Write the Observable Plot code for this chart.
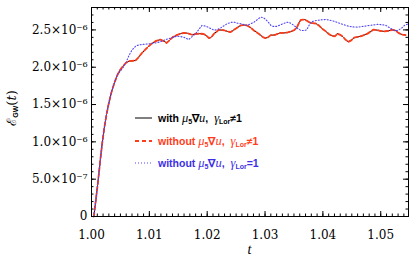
<!DOCTYPE html>
<html><head><meta charset="utf-8">
<script src="https://cdn.jsdelivr.net/npm/d3@7"></script>
<script src="https://cdn.jsdelivr.net/npm/@observablehq/plot@0.6"></script>
<style>
body{margin:0;background:#fff}
#wrap{position:relative;width:415px;height:258px;overflow:hidden;background:#fff}
.leg{position:absolute;font-family:"Liberation Sans",Arial,sans-serif;font-size:10.5px;font-weight:bold;white-space:nowrap;line-height:12px;transform:translateY(-50%)}
.leg i{font-family:"Liberation Serif",serif;font-style:italic;font-size:12.5px;font-weight:normal}
.leg sub{font-size:7px;vertical-align:-2px;line-height:0}
.samp{position:absolute}
#ylab{position:absolute;left:11px;top:108px;transform:translate(-50%,-50%) rotate(-90deg);font-family:"DejaVu Serif",serif;font-size:13px;white-space:nowrap}
#ylab sub{font-size:7px;vertical-align:-2px;font-family:"Liberation Sans",sans-serif;font-weight:bold}
#xlab{position:absolute;left:249.5px;top:250px;transform:translate(-50%,-50%);font-family:"Liberation Serif",serif;font-style:italic;font-size:14px}
</style></head><body><div id="wrap"></div>
<script>
// time axis values (t) and E_GW values in units of 1e-6
const tBlack = [1.0004,1.0008,1.00116,1.0015,1.00185,1.0022,1.0026,1.0030,1.0035,1.0040,1.0045,1.0050,1.0055,1.0060,1.0065,1.0070,1.0076,1.0081,1.0086,1.0091,1.0096,1.0103,1.0111,1.0119,1.0125,1.0130,1.0135,1.0140,1.0147,1.0154,1.0160,1.0166,1.0174,1.0180,1.0187,1.0194,1.0199,1.0203,1.0207,1.0212,1.0220,1.0229,1.0235,1.0240,1.0246,1.0252,1.0258,1.0264,1.0269,1.0275,1.0281,1.0287,1.0292,1.0297,1.0301,1.0305,1.0310,1.0314,1.0318,1.0323,1.0327,1.0333,1.0339,1.0345,1.0350,1.0355,1.0359,1.0362,1.0368,1.0373,1.0378,1.0382,1.0388,1.0393,1.0399,1.0405,1.0411,1.0416,1.0421,1.0425,1.0431,1.0435,1.0439,1.0444,1.0449,1.0454,1.0460,1.0466,1.0471,1.0477,1.0483,1.0487,1.0491,1.0496,1.0500,1.0506,1.0512,1.0516,1.0520,1.0525,1.0529,1.0533,1.0538,1.0543,1.0548];
const egwBlack = [0,0.25,0.49,0.74,0.98,1.18,1.37,1.52,1.68,1.80,1.90,1.97,2.02,2.06,2.08,2.085,2.09,2.13,2.18,2.22,2.26,2.31,2.35,2.37,2.35,2.325,2.36,2.40,2.43,2.45,2.46,2.455,2.435,2.445,2.45,2.445,2.42,2.39,2.40,2.45,2.50,2.495,2.48,2.47,2.50,2.53,2.56,2.565,2.56,2.53,2.49,2.46,2.43,2.40,2.39,2.40,2.43,2.43,2.435,2.45,2.46,2.46,2.465,2.48,2.495,2.53,2.60,2.635,2.64,2.62,2.595,2.59,2.585,2.56,2.515,2.48,2.44,2.42,2.415,2.45,2.43,2.405,2.37,2.34,2.36,2.395,2.405,2.417,2.43,2.45,2.48,2.503,2.50,2.493,2.485,2.48,2.485,2.493,2.50,2.493,2.47,2.45,2.436,2.43];
const tRed = tBlack;
const egwRed = [0,0.25,0.49,0.74,0.98,1.18,1.37,1.52,1.68,1.80,1.90,1.97,2.02,2.06,2.08,2.085,2.09,2.13,2.18,2.22,2.26,2.31,2.35,2.37,2.35,2.325,2.36,2.40,2.43,2.45,2.46,2.455,2.435,2.445,2.45,2.445,2.42,2.39,2.40,2.45,2.50,2.495,2.48,2.47,2.50,2.53,2.56,2.565,2.56,2.53,2.49,2.46,2.43,2.40,2.39,2.40,2.43,2.43,2.435,2.45,2.46,2.46,2.465,2.48,2.495,2.53,2.60,2.635,2.64,2.62,2.595,2.59,2.585,2.56,2.515,2.48,2.44,2.42,2.415,2.45,2.43,2.405,2.37,2.34,2.36,2.395,2.405,2.417,2.43,2.45,2.48,2.503,2.50,2.493,2.485,2.48,2.485,2.493,2.50,2.493,2.47,2.45,2.436,2.43];
const tBlue = [1.0004,1.0008,1.00116,1.0015,1.00185,1.0022,1.0026,1.0030,1.0035,1.0040,1.0045,1.0050,1.0055,1.0060,1.0065,1.0070,1.0076,1.0082,1.0088,1.0095,1.0102,1.0110,1.0119,1.0128,1.0137,1.0145,1.0152,1.0160,1.0168,1.0174,1.0180,1.0186,1.0191,1.0197,1.0202,1.0208,1.0213,1.0219,1.0224,1.0230,1.0235,1.0241,1.0246,1.0252,1.0258,1.0264,1.0269,1.0275,1.0281,1.0287,1.0292,1.0297,1.0301,1.0306,1.0310,1.0314,1.0320,1.0326,1.0331,1.0337,1.0341,1.0346,1.0350,1.0356,1.0362,1.0368,1.0372,1.0376,1.0379,1.0385,1.0390,1.0398,1.0405,1.0412,1.0419,1.0425,1.0431,1.0438,1.0445,1.0452,1.0460,1.0468,1.0477,1.0486,1.0494,1.0502,1.0509,1.0515,1.0523,1.0528,1.0532,1.0537,1.0541,1.0548];
const egwBlue = [0,0.25,0.49,0.74,0.98,1.18,1.37,1.52,1.68,1.80,1.90,1.95,2.00,2.07,2.16,2.23,2.28,2.30,2.305,2.31,2.315,2.325,2.34,2.37,2.39,2.41,2.415,2.40,2.37,2.41,2.45,2.51,2.56,2.55,2.535,2.51,2.495,2.51,2.53,2.56,2.585,2.60,2.605,2.59,2.583,2.57,2.56,2.58,2.604,2.64,2.67,2.665,2.64,2.60,2.56,2.547,2.547,2.565,2.583,2.60,2.604,2.58,2.56,2.52,2.493,2.49,2.50,2.56,2.604,2.62,2.627,2.635,2.64,2.63,2.617,2.60,2.583,2.565,2.547,2.54,2.537,2.545,2.556,2.565,2.574,2.57,2.56,2.53,2.493,2.49,2.503,2.53,2.56,2.583];

const xTicks = [1.00,1.01,1.02,1.03,1.04,1.05];
const yTicks = [0,5e-7,1e-6,1.5e-6,2e-6,2.5e-6];
const xMinor = d3.range(0,55).map(i => 1 + i*0.001);
const yMinor = d3.range(0,29).map(i => i*1e-7);

const sup = {"-":"⁻","0":"⁰","1":"¹","2":"²","3":"³","4":"⁴","5":"⁵","6":"⁶","7":"⁷","8":"⁸","9":"⁹"};
function yFmt(v){
  if (v === 0) return "0";
  const e = Math.floor(Math.log10(v) + 1e-9);
  const m = v / Math.pow(10, e);
  return m.toFixed(1) + "×10" + String(e).split("").map(c => sup[c]).join("");
}

const mk = (ts, vs) => ts.map((t,i) => ({t, v: vs[i]*1e-6}));
const black = mk(tBlack, egwBlack), red = mk(tRed, egwRed), blue = mk(tBlue, egwBlue);

const W = 415, H = 258, ML = 91, MR = 7, MT = 7, MB = 42;
const FW = W - ML - MR, FH = H - MT - MB;
const MJ = 5, MN = 2.5;
const tickMarks = (vals, len) => [
  Plot.tickX(vals, {x: d => d, insetTop: FH - len, stroke: "black"}),
  Plot.tickX(vals, {x: d => d, insetBottom: FH - len, stroke: "black"})
];
const tickMarksY = (vals, len) => [
  Plot.tickY(vals, {y: d => d, insetRight: FW - len, stroke: "black"}),
  Plot.tickY(vals, {y: d => d, insetLeft: FW - len, stroke: "black"})
];
const chart = Plot.plot({
  width: W, height: H,
  marginLeft: ML, marginRight: MR, marginTop: MT, marginBottom: MB,
  x: {domain: [1.0, 1.0548]},
  y: {domain: [0, 2.8e-6]},
  style: {fontFamily: "DejaVu Serif", fontSize: "12px", background: "white", color: "black", overflow: "visible"},
  marks: [
    Plot.line(black, {x: "t", y: "v", stroke: "black", strokeWidth: 1}),
    Plot.line(red, {x: "t", y: "v", stroke: "#ff3c1a", strokeWidth: 1.8, strokeDasharray: "4,2.5"}),
    Plot.line(blue, {x: "t", y: "v", stroke: "#5045f5", strokeWidth: 1.1, strokeDasharray: "1,2"}),
    ...tickMarks(xMinor, MN),
    ...tickMarks(xTicks, MJ),
    ...tickMarksY(yMinor, MN),
    ...tickMarksY(yTicks, MJ),
    Plot.frame({stroke: "black"}),
    Plot.axisX(xTicks, {anchor: "bottom", tickSize: 0, tickPadding: 14, tickFormat: d => d.toFixed(2), label: null}),
    Plot.axisY(yTicks, {anchor: "left", tickSize: 0, tickPadding: 4, tickFormat: yFmt, label: null})
  ]
});
const wrap = document.getElementById("wrap");
wrap.appendChild(chart);

const legend = [
  {y: 118, color: "black", text: "with&nbsp;", sampleDash: null, sw: 1, lineColor: "black", sym: "≠"},
  {y: 141, color: "#ff3c1a", text: "without&nbsp;", sampleDash: "4,3", sw: 1.8, lineColor: "#ff3c1a", sym: "≠"},
  {y: 163, color: "#3d2fe6", text: "without&nbsp;", sampleDash: "1,2", sw: 1.1, lineColor: "#5045f5", sym: "="}
];
for (const L of legend) {
  const s = document.createElementNS("http://www.w3.org/2000/svg", "svg");
  s.setAttribute("class", "samp");
  s.setAttribute("width", 18); s.setAttribute("height", 6);
  s.style.left = "135px"; s.style.top = (L.y - 3) + "px";
  const ln = document.createElementNS("http://www.w3.org/2000/svg", "line");
  ln.setAttribute("x1", 0); ln.setAttribute("x2", 17); ln.setAttribute("y1", 3); ln.setAttribute("y2", 3);
  ln.setAttribute("stroke", L.lineColor); ln.setAttribute("stroke-width", L.sw);
  if (L.sampleDash) ln.setAttribute("stroke-dasharray", L.sampleDash);
  s.appendChild(ln);
  wrap.appendChild(s);
  const d = document.createElement("div");
  d.className = "leg";
  d.style.left = "158px"; d.style.top = L.y + "px"; d.style.color = L.color;
  d.innerHTML = L.text + "<i>μ</i><sub>5</sub>∇<i>u</i>, &nbsp;<i>γ</i><sub>Lor</sub>" + L.sym + "1";
  wrap.appendChild(d);
}
const yl = document.createElement("div");
yl.id = "ylab";
yl.innerHTML = "ℰ<sub>GW</sub>(<i>t</i>)";
wrap.appendChild(yl);
const xl = document.createElement("div");
xl.id = "xlab"; xl.textContent = "t";
wrap.appendChild(xl);
</script></body></html>
